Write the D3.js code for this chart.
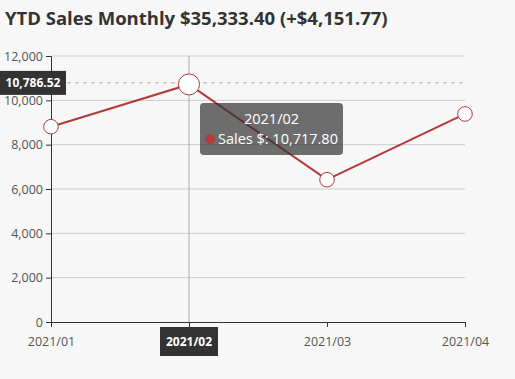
<!DOCTYPE html>
<html>
<head>
<meta charset="utf-8">
<script src="https://cdn.jsdelivr.net/npm/d3@7"></script>
<style>
  body { margin: 0; background: #f7f7f7; }
  svg { display: block; font-family: "Open Sans", "Noto Sans", sans-serif; }
</style>
</head>
<body>
<svg id="chart" width="515" height="379"></svg>
<script>
// data
var months = ["2021/01", "2021/02", "2021/03", "2021/04"]
var sales = [8810.00, 10717.80, 6420.00, 9385.60]
var yTicks = [0, 2000, 4000, 6000, 8000, 10000, 12000]
var title = "YTD Sales Monthly $35,333.40 (+$4,151.77)"
var hoverIndex = 1
var pointerValue = 10786.52

var lineColor = "#b3393b"
var fmt = d3.format(",")
var fmt2 = d3.format(",.2f")

var svg = d3.select("#chart")
var plotLeft = 51, plotRight = 465, plotTop = 56, plotBottom = 322

var x = d3.scalePoint().domain(months).range([plotLeft, plotRight])
var y = d3.scaleLinear().domain([0, 12000]).range([plotBottom, plotTop])

svg.append("text")
  .attr("x", 5).attr("y", 25)
  .attr("font-size", 18.5).attr("font-weight", "bold")
  .attr("fill", "#333")
  .text(title)

// grid
svg.append("g").selectAll("line")
  .data(yTicks.slice(1))
  .join("line")
  .attr("x1", plotLeft).attr("x2", plotRight)
  .attr("y1", d => y(d)).attr("y2", d => y(d))
  .attr("stroke", "#ccc")

// y axis
var yAxis = svg.append("g")
  .attr("transform", "translate(" + plotLeft + ",0)")
  .call(d3.axisLeft(y).tickValues(yTicks).tickFormat(fmt).tickSize(5).tickPadding(3))
yAxis.select(".domain").attr("stroke", "#333")
yAxis.selectAll(".tick line").attr("stroke", "#333")
yAxis.selectAll("text").attr("fill", "#555").attr("font-size", 12.5)
  .attr("font-family", "Open Sans, sans-serif")

// x axis
var xAxis = svg.append("g")
  .attr("transform", "translate(0," + plotBottom + ")")
  .call(d3.axisBottom(x).tickSize(5).tickPadding(10))
xAxis.select(".domain").attr("stroke", "#333")
xAxis.selectAll(".tick line").attr("stroke", "#333")
xAxis.selectAll("text").attr("fill", "#555").attr("font-size", 12.5)
  .attr("font-family", "Open Sans, sans-serif")

// cross pointer
svg.append("line")
  .attr("x1", x(months[hoverIndex])).attr("x2", x(months[hoverIndex]))
  .attr("y1", plotTop).attr("y2", plotBottom)
  .attr("stroke", "#aaa")
svg.append("line")
  .attr("x1", plotLeft).attr("x2", plotRight)
  .attr("y1", y(pointerValue)).attr("y2", y(pointerValue))
  .attr("stroke", "#aaa").attr("stroke-dasharray", "4,4")

// line
var line = d3.line().x((d, i) => x(months[i])).y(d => y(d))
svg.append("path")
  .datum(sales)
  .attr("d", line)
  .attr("fill", "none")
  .attr("stroke", lineColor)
  .attr("stroke-width", 2)

svg.append("g").selectAll("circle")
  .data(sales)
  .join("circle")
  .attr("cx", (d, i) => x(months[i]))
  .attr("cy", d => y(d))
  .attr("r", (d, i) => i == hoverIndex ? 10.5 : 7.3)
  .attr("fill", "#fff")
  .attr("stroke", lineColor)
  .attr("stroke-width", 1)

// pointer labels
var py = y(pointerValue)
svg.append("rect")
  .attr("x", 0).attr("y", py - 12).attr("width", 66).attr("height", 24)
  .attr("fill", "#333")
svg.append("text")
  .attr("x", 33).attr("y", py + 4.5)
  .attr("text-anchor", "middle").attr("fill", "#fff")
  .attr("font-size", 12).attr("font-weight", "bold")
  .text(fmt2(pointerValue))

var px = x(months[hoverIndex])
svg.append("rect")
  .attr("x", px - 29).attr("y", 327).attr("width", 58).attr("height", 29)
  .attr("fill", "#333")
svg.append("text")
  .attr("x", px).attr("y", 346)
  .attr("text-anchor", "middle").attr("fill", "#fff")
  .attr("font-size", 12).attr("font-weight", "bold")
  .text(months[hoverIndex])

// tooltip
var tip = svg.append("g").attr("transform", "translate(200,103)")
tip.append("rect")
  .attr("width", 143).attr("height", 52).attr("rx", 4)
  .attr("fill", "rgba(50,50,50,0.7)")
tip.append("text")
  .attr("x", 71.5).attr("y", 21)
  .attr("text-anchor", "middle").attr("fill", "#fff").attr("font-size", 14.5)
  .text(months[hoverIndex])
tip.append("circle")
  .attr("cx", 10).attr("cy", 36).attr("r", 5)
  .attr("fill", lineColor)
tip.append("text")
  .attr("x", 18).attr("y", 41)
  .attr("fill", "#fff").attr("font-size", 14.5)
  .text("Sales $: " + fmt2(sales[hoverIndex]))
</script>
</body>
</html>
